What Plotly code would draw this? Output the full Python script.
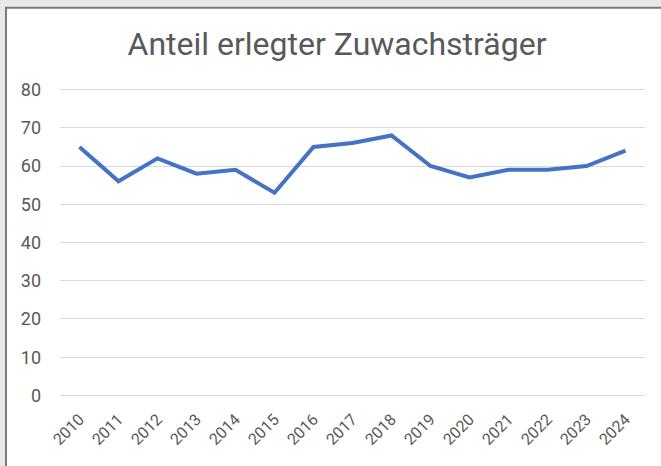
import plotly.graph_objects as go

years = [str(y) for y in range(2010, 2025)]
values = [65, 56, 62, 58, 59, 53, 65, 66, 68, 60, 57, 59, 59, 60, 64]
y_ticks = [0, 10, 20, 30, 40, 50, 60, 70, 80]
title_text = "Anteil erlegter Zuwachsträger"

W, H = 661, 466
L, R, T, B = 60, 16, 87.5, 68.5
pw, ph = W - L - R, H - T - B

def px(x):
    return (x - L) / pw

def py(y):
    return (H - B - y) / ph

fig = go.Figure()
fig.add_trace(go.Scatter(
    x=years, y=values, mode="lines",
    line=dict(color="#4472C4", width=4),
    hoverinfo="skip", showlegend=False,
))

fig.update_layout(
    width=W, height=H,
    margin=dict(l=L, r=R, t=T, b=B, autoexpand=False),
    paper_bgcolor="#e9e9e9",
    plot_bgcolor="white",
    title=dict(text=title_text, x=337 / W, xref="container", xanchor="center",
               y=1 - 44 / H, yref="container", yanchor="middle",
               font=dict(family="Roboto, sans-serif", size=32, color="#595959")),
    font=dict(family="Roboto, sans-serif", color="#595959", size=16),
    xaxis=dict(type="category", range=[-0.5, 14.5], showgrid=False,
               showline=False, zeroline=False, tickangle=-45,
               tickfont=dict(size=16, color="#595959"), ticks="",
               ticklabelstandoff=9, automargin=False),
    yaxis=dict(range=[-0.4, 80.4], tickvals=y_ticks, showgrid=True,
               gridcolor="#d9d9d9", gridwidth=1, zeroline=False,
               showline=False, ticks="", ticklabelstandoff=18,
               automargin=False,
               tickfont=dict(size=18, color="#595959")),
    shapes=[
        dict(type="rect", xref="paper", yref="paper",
             x0=px(6), x1=px(W + 20), y0=py(7), y1=py(H + 20),
             fillcolor="white", line=dict(color="#7a7a7a", width=2),
             layer="below"),
    ],
)

fig.write_html("out.html",
               config={"displayModeBar": False, "staticPlot": True},
               post_script="document.body.style.margin='0';document.body.style.overflow='hidden';")
